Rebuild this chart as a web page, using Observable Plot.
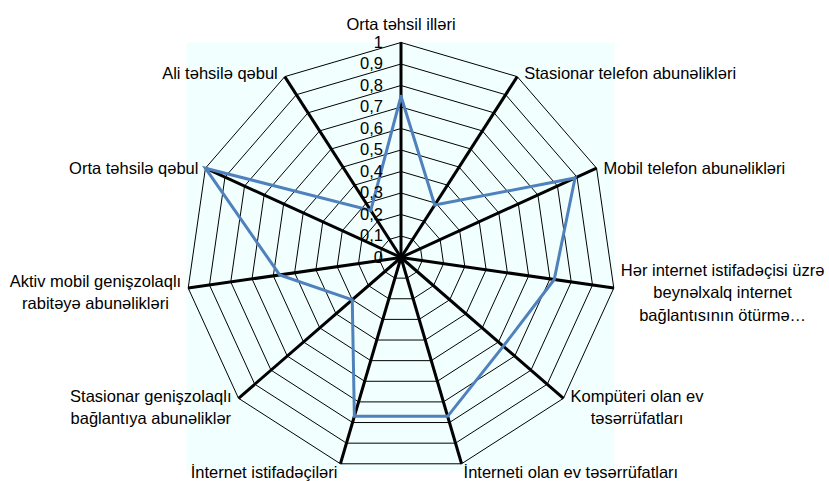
<!DOCTYPE html>
<html><head><meta charset="utf-8">
<script src="https://cdn.jsdelivr.net/npm/d3@7"></script>
<script src="https://cdn.jsdelivr.net/npm/@observablehq/plot@0.6"></script>
<style>body{margin:0;background:#fff}</style>
</head><body><div id="chart"></div>
<script>
const categories = [
  "Orta təhsil illəri",
  "Stasionar telefon abunəlikləri",
  "Mobil telefon abunəlikləri",
  "Hər internet istifadəçisi üzrə\nbeynəlxalq internet\nbağlantısının ötürmə…",
  "Kompüteri olan ev\ntəsərrüfatları",
  "İnterneti olan ev təsərrüfatları",
  "İnternet istifadəçiləri",
  "Stasionar genişzolaqlı\nbağlantıya abunəliklər",
  "Aktiv mobil genişzolaqlı\nrabitəyə abunəlikləri",
  "Orta təhsilə qəbul",
  "Ali təhsilə qəbul"
];
const values = [0.75, 0.29, 0.89, 0.72, 0.63, 0.77, 0.77, 0.30, 0.57, 1.0, 0.26];
const tickValues = [0, 0.1, 0.2, 0.3, 0.4, 0.5, 0.6, 0.7, 0.8, 0.9, 1];
const tickLabels = ["0", "0,1", "0,2", "0,3", "0,4", "0,5", "0,6", "0,7", "0,8", "0,9", "1"];

const W = 829, H = 481;
const R = 215, cx = 400.5, cy = 257;
const fr = {left: 186, right: 614, top: 42, bottom: 470};
const FONT = "'Liberation Sans', Arial, sans-serif";
const FS = 16.5;

const n = categories.length;
const ang = i => 2 * Math.PI * i / n;
const px = (i, r) => r * Math.sin(ang(i));
const py = (i, r) => r * Math.cos(ang(i));

// grid rings
const rings = [];
tickValues.slice(1).forEach(t => {
  for (let i = 0; i <= n; i++) rings.push({x: px(i % n, t), y: py(i % n, t), level: t});
});
// spokes
const spokes = categories.map((c, i) => ({x2: px(i, 1), y2: py(i, 1)}));
// series
const series = [];
for (let i = 0; i <= n; i++) series.push({x: px(i % n, values[i % n]), y: py(i % n, values[i % n])});

// label placement
const ctx = document.createElement("canvas").getContext("2d");
ctx.font = `${FS}px ${FONT}`;
const widthOf = s => Math.max(...s.split("\n").map(l => ctx.measureText(l).width));
const labels = categories.map((c, i) => {
  const s = Math.sin(ang(i)), co = Math.cos(ang(i));
  let xo = 0, yo = 0;
  if (i === 0) { yo = -20; }
  else if (Math.abs(s) < 0.3) {
    // bottom labels
    const w = widthOf(c);
    xo = s > 0 ? (2 + w / 2) : -(3 + w / 2);
    yo = 7;
  } else {
    const w = widthOf(c);
    const gap = 7;
    xo = Math.sign(s) * (gap + w / 2);
    yo = -8 * co + 2;
  }
  return {x: px(i, 1) + xo / R, y: py(i, 1) - yo / R, text: c};
});

const ticks = tickValues.map((t, k) => ({x: 0, y: t, text: tickLabels[k]}));

const chart = Plot.plot({
  width: W, height: H,
  marginLeft: fr.left, marginRight: W - fr.right, marginTop: fr.top, marginBottom: H - fr.bottom,
  x: {domain: [(fr.left - cx) / R, (fr.right - cx) / R], axis: null},
  y: {domain: [(cy - fr.bottom) / R, (cy - fr.top) / R], axis: null},
  style: {fontFamily: FONT, fontSize: FS + "px", background: "white", overflow: "visible"},
  marks: [
    Plot.frame({fill: "#F2FFFF", stroke: "none"}),
    Plot.line(rings, {x: "x", y: "y", z: "level", stroke: "black", strokeWidth: 1}),
    Plot.link(spokes, {x1: 0, y1: 0, x2: "x2", y2: "y2", stroke: "black", strokeWidth: 3}),
    Plot.line(series, {x: "x", y: "y", stroke: "#4F81BD", strokeWidth: 3, strokeLinejoin: "miter", strokeMiterlimit: 10}),
    Plot.text(ticks, {x: "x", y: "y", text: "text", textAnchor: "end", dx: -18, fill: "black", fontSize: 16.5}),
    Plot.text(labels, {x: "x", y: "y", text: "text", textAnchor: "middle", lineAnchor: "middle", lineHeight: 1.35, fill: "black", fontSize: FS})
  ]
});
document.getElementById("chart").appendChild(chart);
</script>
</body></html>
